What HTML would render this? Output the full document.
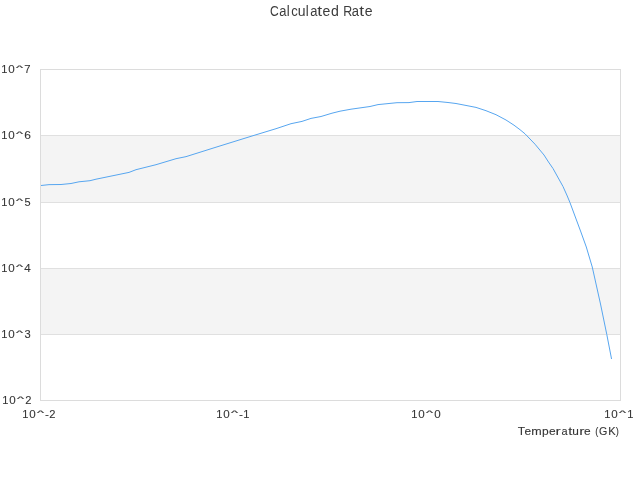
<!DOCTYPE html>
<html>
<head>
<meta charset="utf-8">
<title>Calculated Rate</title>
<style>
  html, body { margin: 0; padding: 0; background: #ffffff; }
  body { width: 640px; height: 480px; overflow: hidden; font-family: "Liberation Sans", sans-serif; }
  svg { display: block; will-change: transform; }
  text { font-family: "Liberation Sans", sans-serif; fill: #363636; stroke: #363636; stroke-width: 0.1px; }
  .lbl { font-size: 11.66px; }
  .ttl { font-size: 13.77px; fill: #3c3c3c; stroke: none; }
</style>
</head>
<body>
<svg width="640" height="480" viewBox="0 0 640 480">
  <rect x="0" y="0" width="640" height="480" fill="#ffffff"/>

  <!-- alternating bands -->
  <rect x="41" y="135.5" width="579" height="67" fill="#f4f4f4"/>
  <rect x="41" y="268.5" width="579" height="66" fill="#f4f4f4"/>

  <!-- horizontal grid lines -->
  <g stroke="#e0e0e0" stroke-width="1" shape-rendering="crispEdges">
    <line x1="40" y1="135.5" x2="620" y2="135.5"/>
    <line x1="40" y1="202.5" x2="620" y2="202.5"/>
    <line x1="40" y1="268.5" x2="620" y2="268.5"/>
    <line x1="40" y1="334.5" x2="620" y2="334.5"/>
  </g>

  <!-- plot frame -->
  <rect x="40.5" y="69.5" width="580" height="331" fill="none" stroke="#dcdcdc" stroke-width="1" shape-rendering="crispEdges"/>

  <!-- data series -->
  <polyline fill="none" stroke="#57a6f0" stroke-width="1" stroke-linejoin="round" points="41,185.5 49,184.65 61,184.5 71,183.5 79,181.8 90,180.7 96,179.2 129,172.4 136,169.7 156,164.7 176,158.7 186,156.65 216,147.2 253,135.7 276,128.7 291,123.7 302,121.4 311,118.4 321,116.5 332,113.2 340,111.2 351,109.2 370,106.5 378,104.6 392,103.2 397,102.7 409,102.6 417,101.5 438,101.5 448,102.5 456,103.5 476,107.4 486,110.7 496,114.7 506,120 514,125.2 520,129.7 525,133.8 535,144.2 544,155 548.5,162 553,168.5 563,186.5 567.25,196 569.95,202.5 580.9,232 586.3,247 592.25,267 600.5,304 606.8,334.5 611.55,359"/>

  <!-- title -->
  <text class="ttl" y="16"><tspan x="270.12" textLength="8.72" lengthAdjust="spacingAndGlyphs">C</tspan><tspan x="279.24" textLength="7.21" lengthAdjust="spacingAndGlyphs">a</tspan><tspan x="286.83" textLength="2.95" lengthAdjust="spacingAndGlyphs">l</tspan><tspan x="291.16" textLength="6.52" lengthAdjust="spacingAndGlyphs">c</tspan><tspan x="297.69" textLength="7.8" lengthAdjust="spacingAndGlyphs">u</tspan><tspan x="305.63" textLength="2.95" lengthAdjust="spacingAndGlyphs">l</tspan><tspan x="310.24" textLength="7.21" lengthAdjust="spacingAndGlyphs">a</tspan><tspan x="317.19" textLength="4.83" lengthAdjust="spacingAndGlyphs">t</tspan><tspan x="322.42" textLength="7.81" lengthAdjust="spacingAndGlyphs">e</tspan><tspan x="331.12" textLength="7.86" lengthAdjust="spacingAndGlyphs">d</tspan> <tspan x="343.26" textLength="8.98" lengthAdjust="spacingAndGlyphs">R</tspan><tspan x="351.74" textLength="7.21" lengthAdjust="spacingAndGlyphs">a</tspan><tspan x="359.39" textLength="4.83" lengthAdjust="spacingAndGlyphs">t</tspan><tspan x="364.82" textLength="7.81" lengthAdjust="spacingAndGlyphs">e</tspan></text>
  <!-- y axis labels -->
  <text class="lbl" y="73"><tspan x="1.36" textLength="6.16" lengthAdjust="spacingAndGlyphs">1</tspan><tspan x="8.27" textLength="6.45" lengthAdjust="spacingAndGlyphs">0</tspan><tspan x="16.09" y="70" font-size="8" textLength="7.03" lengthAdjust="spacingAndGlyphs" stroke-width="0.2">^</tspan><tspan x="24.32" y="73" textLength="6.31" lengthAdjust="spacingAndGlyphs">7</tspan></text>
  <text class="lbl" y="139"><tspan x="1.36" textLength="6.16" lengthAdjust="spacingAndGlyphs">1</tspan><tspan x="8.27" textLength="6.45" lengthAdjust="spacingAndGlyphs">0</tspan><tspan x="16.09" y="136" font-size="8" textLength="7.03" lengthAdjust="spacingAndGlyphs" stroke-width="0.2">^</tspan><tspan x="24.16" y="139" textLength="6.67" lengthAdjust="spacingAndGlyphs">6</tspan></text>
  <text class="lbl" y="206"><tspan x="1.36" textLength="6.16" lengthAdjust="spacingAndGlyphs">1</tspan><tspan x="8.27" textLength="6.45" lengthAdjust="spacingAndGlyphs">0</tspan><tspan x="16.09" y="203" font-size="8" textLength="7.03" lengthAdjust="spacingAndGlyphs" stroke-width="0.2">^</tspan><tspan x="24.41" y="206" textLength="6.09" lengthAdjust="spacingAndGlyphs">5</tspan></text>
  <text class="lbl" y="272"><tspan x="1.36" textLength="6.16" lengthAdjust="spacingAndGlyphs">1</tspan><tspan x="8.27" textLength="6.45" lengthAdjust="spacingAndGlyphs">0</tspan><tspan x="16.09" y="269" font-size="8" textLength="7.03" lengthAdjust="spacingAndGlyphs" stroke-width="0.2">^</tspan><tspan x="24.27" y="272" textLength="6.45" lengthAdjust="spacingAndGlyphs">4</tspan></text>
  <text class="lbl" y="338"><tspan x="1.36" textLength="6.16" lengthAdjust="spacingAndGlyphs">1</tspan><tspan x="8.27" textLength="6.45" lengthAdjust="spacingAndGlyphs">0</tspan><tspan x="16.09" y="335" font-size="8" textLength="7.03" lengthAdjust="spacingAndGlyphs" stroke-width="0.2">^</tspan><tspan x="24.41" y="338" textLength="6.19" lengthAdjust="spacingAndGlyphs">3</tspan></text>
  <text class="lbl" y="404"><tspan x="2.36" textLength="6.16" lengthAdjust="spacingAndGlyphs">1</tspan><tspan x="9.27" textLength="6.45" lengthAdjust="spacingAndGlyphs">0</tspan><tspan x="17.09" y="401" font-size="8" textLength="7.03" lengthAdjust="spacingAndGlyphs" stroke-width="0.2">^</tspan><tspan x="25.24" y="404" textLength="6.22" lengthAdjust="spacingAndGlyphs">2</tspan></text>
  <!-- x axis labels -->
  <text class="lbl" y="418"><tspan x="22.36" textLength="6.16" lengthAdjust="spacingAndGlyphs">1</tspan><tspan x="29.27" textLength="6.45" lengthAdjust="spacingAndGlyphs">0</tspan><tspan x="37.09" y="415" font-size="8" textLength="7.03" lengthAdjust="spacingAndGlyphs" stroke-width="0.2">^</tspan><tspan x="45.01" y="418" textLength="3.95" lengthAdjust="spacingAndGlyphs">-</tspan><tspan x="49.24" textLength="6.22" lengthAdjust="spacingAndGlyphs">2</tspan></text>
  <text class="lbl" y="418"><tspan x="216.36" textLength="6.16" lengthAdjust="spacingAndGlyphs">1</tspan><tspan x="223.27" textLength="6.45" lengthAdjust="spacingAndGlyphs">0</tspan><tspan x="231.09" y="415" font-size="8" textLength="7.03" lengthAdjust="spacingAndGlyphs" stroke-width="0.2">^</tspan><tspan x="239.01" y="418" textLength="3.95" lengthAdjust="spacingAndGlyphs">-</tspan><tspan x="243.36" textLength="6.16" lengthAdjust="spacingAndGlyphs">1</tspan></text>
  <text class="lbl" y="418"><tspan x="411.36" textLength="6.16" lengthAdjust="spacingAndGlyphs">1</tspan><tspan x="418.27" textLength="6.45" lengthAdjust="spacingAndGlyphs">0</tspan><tspan x="426.09" y="415" font-size="8" textLength="7.03" lengthAdjust="spacingAndGlyphs" stroke-width="0.2">^</tspan><tspan x="434.27" y="418" textLength="6.45" lengthAdjust="spacingAndGlyphs">0</tspan></text>
  <text class="lbl" y="418"><tspan x="604.36" textLength="6.16" lengthAdjust="spacingAndGlyphs">1</tspan><tspan x="611.27" textLength="6.45" lengthAdjust="spacingAndGlyphs">0</tspan><tspan x="619.09" y="415" font-size="8" textLength="7.03" lengthAdjust="spacingAndGlyphs" stroke-width="0.2">^</tspan><tspan x="627.36" y="418" textLength="6.16" lengthAdjust="spacingAndGlyphs">1</tspan></text>
  <text class="lbl" y="435"><tspan x="517.7" textLength="7.33" lengthAdjust="spacingAndGlyphs">T</tspan><tspan x="524.4" textLength="6.61" lengthAdjust="spacingAndGlyphs">e</tspan><tspan x="531.37" textLength="10.44" lengthAdjust="spacingAndGlyphs">m</tspan><tspan x="542.03" textLength="6.66" lengthAdjust="spacingAndGlyphs">p</tspan><tspan x="549.1" textLength="6.61" lengthAdjust="spacingAndGlyphs">e</tspan><tspan x="555.47" textLength="5.19" lengthAdjust="spacingAndGlyphs">r</tspan><tspan x="561.5" textLength="6.1" lengthAdjust="spacingAndGlyphs">a</tspan><tspan x="568.37" textLength="4.08" lengthAdjust="spacingAndGlyphs">t</tspan><tspan x="572.16" textLength="6.6" lengthAdjust="spacingAndGlyphs">u</tspan><tspan x="579.17" textLength="5.19" lengthAdjust="spacingAndGlyphs">r</tspan><tspan x="584.1" textLength="6.61" lengthAdjust="spacingAndGlyphs">e</tspan> <tspan x="595.37" textLength="3.1" lengthAdjust="spacingAndGlyphs">(</tspan><tspan x="599.08" textLength="8.34" lengthAdjust="spacingAndGlyphs">G</tspan><tspan x="608.17" textLength="7.4" lengthAdjust="spacingAndGlyphs">K</tspan><tspan x="615.83" textLength="3.1" lengthAdjust="spacingAndGlyphs">)</tspan></text>
</svg>
</body>
</html>
